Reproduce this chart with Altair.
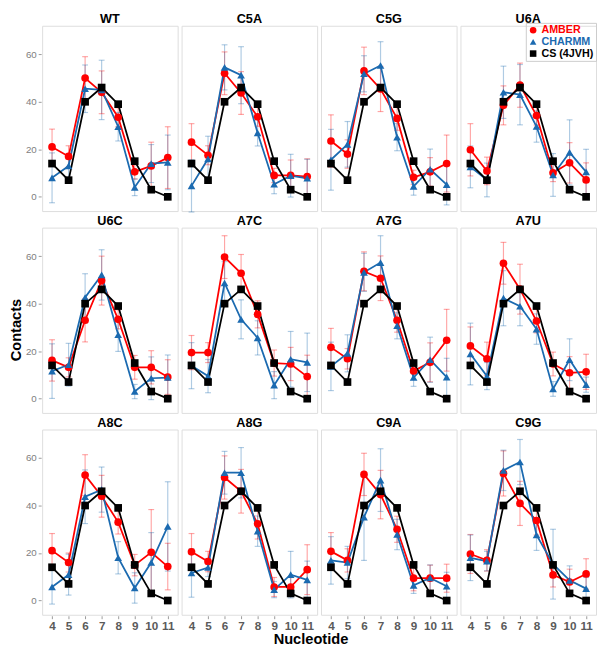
import altair as alt
import pandas as pd

PANELS = ["WT", "C5A", "C5G", "U6A", "U6C", "A7C", "A7G", "A7U", "A8C", "A8G", "C9A", "C9G"]
NUC = [4, 5, 6, 7, 8, 9, 10, 11]
SERIES = ["AMBER", "CHARMM", "CS (4JVH)"]
COLORS = ["#ff0000", "#1b6ab0", "#000000"]
SHAPES = ["circle", "triangle-up", "square"]

CS_4JVH = [14, 7, 40, 46, 39, 15, 3, 0]

AMBER_MEAN = {
    "WT": [21, 17, 50, 44, 33.5, 10.5, 13, 16.5],
    "C5A": [23, 17.5, 52, 43.7, 33.7, 9, 9, 8.5],
    "C5G": [23.5, 18, 53, 45.4, 33, 8.2, 10.5, 14],
    "U6A": [19.8, 10.9, 38.5, 47, 34.2, 10.1, 14.3, 7.1],
    "U6C": [16.1, 13.2, 33, 49.7, 33.4, 13.2, 13.2, 9.1],
    "A7C": [19.4, 19.4, 59.6, 52.8, 35.5, 15, 14.6, 9.3],
    "A7G": [21.6, 16.8, 53.6, 50.7, 33, 11.6, 15.3, 24.6],
    "A7U": [22.2, 16.8, 57, 46.1, 32.7, 14.6, 10.9, 11.3],
    "A8C": [21, 16, 52.8, 43.9, 33, 14.9, 20.3, 14.3],
    "A8G": [20.5, 16.4, 51.8, 46, 32.3, 5.7, 5.7, 13],
    "C9A": [20.7, 16.9, 53.1, 44.6, 30, 9.4, 9.4, 9.4],
    "C9G": [19.6, 16.9, 53.5, 40.9, 33.7, 10.8, 7.8, 11.2],
}
AMBER_SD = {
    "WT": [7.5, 4.5, 9, 9, 4, 3, 10, 13],
    "C5A": [7.8, 4, 9, 9, 4, 3, 6.5, 7.5],
    "C5G": [11, 6, 10, 9.5, 5, 3, 6, 12],
    "U6A": [11, 5.8, 8.2, 9.3, 4, 3.7, 8.5, 7.2],
    "U6C": [8.7, 4, 9.1, 10.3, 4, 5, 7, 7.3],
    "A7C": [7.2, 4.2, 9, 7.9, 5.7, 5.5, 7, 9],
    "A7G": [8, 4.3, 8.2, 9.4, 5, 3.5, 8.2, 13],
    "A7U": [8, 7, 8.8, 10.5, 5, 5, 6.8, 7.4],
    "A8C": [7.2, 4, 8.6, 8.8, 5, 4.5, 18, 9.8],
    "A8G": [7.7, 4.3, 9.1, 9.2, 6.4, 4, 4, 10.5],
    "C9A": [7.9, 4.9, 8.9, 10.2, 5.5, 5.3, 5.5, 5.9],
    "C9G": [8.2, 4.5, 9.5, 9.3, 6.1, 5.1, 5.4, 6.4],
}
CHARMM_MEAN = {
    "WT": [8, 13, 45.5, 45, 29.5, 4, 14, 14.5],
    "C5A": [4.6, 16, 54.5, 51.2, 26.9, 5.3, 8.9, 7.8],
    "C5G": [15.6, 22.1, 51.8, 55.3, 25.1, 4.4, 11.6, 5.1],
    "U6A": [12.6, 7.1, 44, 43, 29.6, 9.2, 18.7, 10.5],
    "U6C": [11.6, 14.3, 42.6, 52.1, 26.9, 3, 8.6, 8.9],
    "A7C": [13.9, 9.5, 48.7, 33.4, 25.6, 5.7, 16.6, 15.3],
    "A7G": [13.6, 19.1, 53.2, 57.3, 30.7, 8.9, 16.4, 9.1],
    "A7U": [18.8, 9.5, 42.3, 38.9, 29.3, 4.1, 16.4, 5.9],
    "A8C": [5.7, 10.9, 43.7, 46.7, 18, 5.3, 16, 31.2],
    "A8G": [11.6, 13.9, 53.8, 53.8, 29.2, 4.6, 10.9, 8.7],
    "C9A": [16.9, 16, 35.1, 50.7, 27.8, 6.4, 9.5, 6],
    "C9G": [18, 16.6, 54.8, 58.3, 27.6, 15.3, 8.5, 5],
}
CHARMM_SD = {
    "WT": [10.5, 5, 10, 12.5, 6, 3.5, 8, 11.5],
    "C5A": [11, 9.5, 9.5, 12, 5.5, 4, 9, 8],
    "C5G": [12.8, 9.6, 7.6, 10, 5.7, 3.7, 8.5, 8.5],
    "U6A": [8.8, 7.1, 11, 12.7, 6.6, 9, 13.7, 9.5],
    "U6C": [11.5, 9, 10, 10.6, 7, 3, 9, 9.5],
    "A7C": [9.7, 7, 9, 8.2, 7.2, 5.7, 11.7, 12.3],
    "A7G": [10.2, 7.8, 8, 11.3, 5.5, 3.7, 9.5, 7.9],
    "A7U": [13, 5.7, 11.6, 8.2, 6.4, 3.1, 8.8, 3.2],
    "A8C": [7.2, 8.6, 11.3, 9.5, 6.8, 6.4, 12.6, 18.8],
    "A8G": [10.2, 3.8, 9, 10.6, 6.4, 3.4, 9.8, 7.9],
    "C9A": [10, 6.8, 18.2, 13.2, 6.4, 3.4, 5.5, 5.9],
    "C9G": [9.6, 4.1, 8.5, 9.5, 6.5, 14.7, 6.1, 4.7],
}

rows = []
for p in PANELS:
    for s, means, sds in [("AMBER", AMBER_MEAN[p], AMBER_SD[p]),
                          ("CHARMM", CHARMM_MEAN[p], CHARMM_SD[p]),
                          ("CS (4JVH)", CS_4JVH, [None] * len(NUC))]:
        for n, m, sd in zip(NUC, means, sds):
            rows.append({
                "panel": p, "series": s, "line_series": s, "nuc": n, "mean": m,
                "lo": (m - sd) if sd is not None else None,
                "hi": (m + sd) if sd is not None else None,
            })
df = pd.DataFrame(rows)

FONT = "Liberation Sans"
W, H = 139, 190

xenc = alt.X("nuc:Q",
             scale=alt.Scale(domain=[3.4, 11.6], nice=False, zero=False),
             axis=alt.Axis(values=NUC, title=None, labelFontWeight="bold", labelFontSize=12,
                           labelColor="#5a5a5a", grid=False, domain=False, tickSize=3,
                           tickColor="#999999", labelPadding=2, labelFont=FONT))
yscale = alt.Scale(domain=[-6, 72], nice=False, zero=False)
yaxis = alt.Axis(values=[0, 20, 40, 60], title=None, labelFontSize=10, labelColor="#808080",
                 grid=False, domain=False, tickSize=3, tickColor="#999999", labelPadding=2,
                 labelFont=FONT)

label_fill = ("datum.value == 'AMBER' ? '#ff0000' : "
              "(datum.value == 'CHARMM' ? '#1b6ab0' : '#000000')")
leg = alt.Legend(title=None, orient="none", legendX=530, legendY=-3,
                 labelFontSize=11, labelFontWeight="bold", labelFont=FONT,
                 symbolSize=45, symbolStrokeWidth=0, rowPadding=0, padding=2,
                 labelOffset=3, strokeColor="#cccccc",
                 labelColor=alt.ExprRef(expr=label_fill))

color_leg = alt.Color("series:N", scale=alt.Scale(domain=SERIES, range=COLORS), legend=leg)
shape_leg = alt.Shape("series:N", scale=alt.Scale(domain=SERIES, range=SHAPES), legend=leg)
# line/errorbar colours use their own data-driven scales (no legend)
stroke_noleg = alt.Stroke("line_series:N", scale=alt.Scale(range=COLORS), legend=None)
fill_noleg = alt.Fill("line_series:N", scale=alt.Scale(range=COLORS), legend=None)

errs = alt.Chart().mark_rule(strokeWidth=1.2, opacity=0.35).encode(
    x=xenc, y=alt.Y("lo:Q", scale=yscale, axis=yaxis), y2="hi:Q", stroke=stroke_noleg
).transform_filter("datum.series != 'CS (4JVH)'")

caps = alt.Chart().mark_tick(orient="horizontal", size=6, thickness=1.2, opacity=0.35).encode(
    x=xenc, y=alt.Y("end:Q", scale=yscale, axis=yaxis), fill=fill_noleg
).transform_filter("datum.series != 'CS (4JVH)'").transform_fold(["lo", "hi"], as_=["which", "end"])

lines = alt.Chart().mark_line(strokeWidth=1.8).encode(
    x=xenc, y=alt.Y("mean:Q", scale=yscale, axis=yaxis), stroke=stroke_noleg
)

points = alt.Chart().mark_point(filled=True, size=62, opacity=1).encode(
    x=xenc, y=alt.Y("mean:Q", scale=yscale, axis=yaxis), color=color_leg, shape=shape_leg
)

panel_chart = alt.layer(errs, caps, lines, points, data=df).properties(
    width=W, height=H
).facet(
    facet=alt.Facet("panel:N", sort=PANELS,
                    header=alt.Header(title=None, labelFontSize=13, labelFontWeight="bold",
                                      labelColor="black", labelPadding=0, labelFont=FONT)),
    columns=4, spacing={"row": 0, "column": 2}
).properties(
    title=alt.TitleParams("Nucleotide", orient="bottom", anchor="middle", fontSize=15,
                          fontWeight="bold", font=FONT, offset=1, color="black")
)

ylab = alt.Chart(pd.DataFrame({"t": ["Contacts"]})).mark_text(
    angle=270, fontSize=15, fontWeight="bold", font=FONT, color="black"
).encode(
    text="t:N", x=alt.value(7), y=alt.value(312)
).properties(width=14, height=600, view=alt.ViewBackground(stroke="transparent"))

chart = alt.hconcat(ylab, panel_chart, spacing=0).properties(
    padding={"left": 0, "top": -4, "right": 0, "bottom": 0}
).configure_view(
    stroke="#9a9a9a", strokeWidth=1
).configure(background="white")

chart.save("out.html", embed_options={"renderer": "svg", "actions": False})
